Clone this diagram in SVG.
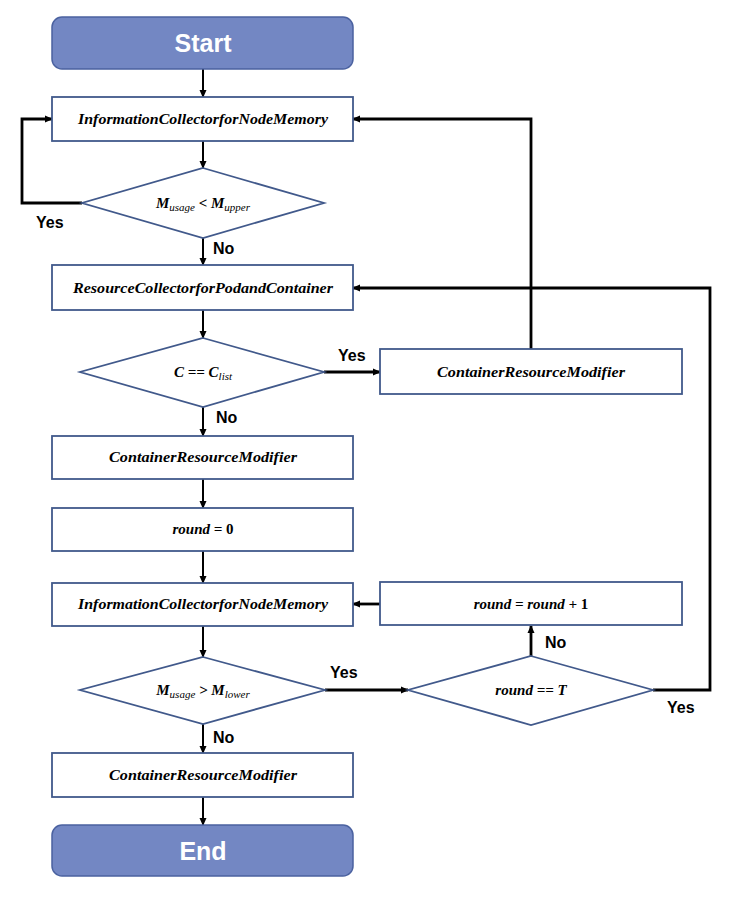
<svg xmlns="http://www.w3.org/2000/svg" width="734" height="898" viewBox="0 0 734 898">
<defs>
<marker id="ah" markerWidth="8" markerHeight="8" refX="7" refY="4" orient="auto" markerUnits="userSpaceOnUse">
<path d="M0,0.5 L8,4 L0,7.5 Z" fill="#000"/>
</marker>
<style>
.term{fill:#7387C3;stroke:#4B62A0;stroke-width:1.5}
.box{fill:#fff;stroke:#41598B;stroke-width:1.8}
.dia{fill:#fff;stroke:#41598B;stroke-width:1.8}
.tt{font-family:"Liberation Sans",Arial,sans-serif;font-weight:bold;font-size:25px;fill:#fff;text-anchor:middle}
.bt{font-family:"Liberation Serif","Times New Roman",serif;font-weight:bold;font-style:italic;font-size:15px;fill:#000;text-anchor:middle}
.sub{font-size:11px;font-weight:normal}
.up{font-style:normal}
.lbl{font-family:"Liberation Sans",Arial,sans-serif;font-weight:bold;font-size:16px;fill:#000}
.c{fill:none;stroke:#000;stroke-width:2}
.ct{fill:none;stroke:#000;stroke-width:2.8}
</style>
</defs>
<rect width="734" height="898" fill="#fff"/>

<g id="connectors">
<line class="c" x1="203" y1="69" x2="203" y2="97" marker-end="url(#ah)"/>
<line class="c" x1="203" y1="141" x2="203" y2="168" marker-end="url(#ah)"/>
<polyline class="ct" points="82,203 22,203 22,119 52,119" marker-end="url(#ah)"/>
<line class="c" x1="203" y1="238" x2="203" y2="265" marker-end="url(#ah)"/>
<line class="c" x1="203" y1="310" x2="203" y2="338" marker-end="url(#ah)"/>
<line class="ct" x1="324" y1="372" x2="380" y2="372" marker-end="url(#ah)"/>
<polyline class="ct" points="531,349 531,119 353,119" marker-end="url(#ah)"/>
<line class="c" x1="203" y1="407" x2="203" y2="436" marker-end="url(#ah)"/>
<line class="c" x1="203" y1="479" x2="203" y2="508" marker-end="url(#ah)"/>
<line class="c" x1="203" y1="551" x2="203" y2="583" marker-end="url(#ah)"/>
<line class="c" x1="203" y1="626" x2="203" y2="657" marker-end="url(#ah)"/>
<line class="ct" x1="380" y1="604" x2="353" y2="604" marker-end="url(#ah)"/>
<line class="ct" x1="531" y1="656" x2="531" y2="626" marker-end="url(#ah)"/>
<line class="ct" x1="325" y1="690" x2="408" y2="690" marker-end="url(#ah)"/>
<polyline class="ct" points="653,690 710,690 710,288 353,288" marker-end="url(#ah)"/>
<line class="c" x1="203" y1="724" x2="203" y2="753" marker-end="url(#ah)"/>
<line class="c" x1="203" y1="797" x2="203" y2="825" marker-end="url(#ah)"/>
<text class="lbl" x="36" y="228">Yes</text>
<text class="lbl" x="213" y="254">No</text>
<text class="lbl" x="338" y="361">Yes</text>
<text class="lbl" x="216" y="423">No</text>
<text class="lbl" x="330" y="678">Yes</text>
<text class="lbl" x="545" y="648">No</text>
<text class="lbl" x="667" y="713">Yes</text>
<text class="lbl" x="213" y="743">No</text>
</g>

<g id="start">
<rect class="term" x="52" y="17" width="301" height="52" rx="10"/>
<text class="tt" x="203" y="52">Start</text>
</g>
<g id="info1">
<rect class="box" x="52" y="97" width="301" height="44"/>
<text class="bt" x="203" y="124" textLength="250" lengthAdjust="spacingAndGlyphs">InformationCollectorforNodeMemory</text>
</g>
<g id="dec1">
<polygon class="dia" points="203,168 324,203 203,238 82,203"/>
<text class="bt" x="203" y="208" font-size="16.5">M<tspan class="sub" dy="3">usage</tspan><tspan dy="-3"> &lt; M</tspan><tspan class="sub" dy="3">upper</tspan></text>
</g>
<g id="resource">
<rect class="box" x="52" y="265" width="301" height="45"/>
<text class="bt" x="203" y="293" textLength="260" lengthAdjust="spacingAndGlyphs">ResourceCollectorforPodandContainer</text>
</g>
<g id="dec2">
<polygon class="dia" points="203,338 324,372 203,407 80,372"/>
<text class="bt" x="203" y="377" font-size="16.5">C == C<tspan class="sub" dy="3">list</tspan></text>
</g>
<g id="crm-right">
<rect class="box" x="380" y="349" width="302" height="45"/>
<text class="bt" x="531" y="377" textLength="188" lengthAdjust="spacingAndGlyphs">ContainerResourceModifier</text>
</g>
<g id="crm1">
<rect class="box" x="52" y="436" width="301" height="43"/>
<text class="bt" x="203" y="462" textLength="188" lengthAdjust="spacingAndGlyphs">ContainerResourceModifier</text>
</g>
<g id="round0">
<rect class="box" x="52" y="508" width="301" height="43"/>
<text class="bt" x="203" y="534">round = <tspan class="up">0</tspan></text>
</g>
<g id="info2">
<rect class="box" x="52" y="583" width="301" height="43"/>
<text class="bt" x="203" y="609" textLength="250" lengthAdjust="spacingAndGlyphs">InformationCollectorforNodeMemory</text>
</g>
<g id="roundinc">
<rect class="box" x="380" y="582" width="302" height="43"/>
<text class="bt" x="531" y="609">round = round + <tspan class="up">1</tspan></text>
</g>
<g id="dec3">
<polygon class="dia" points="203,657 325,690 203,724 80,690"/>
<text class="bt" x="203" y="695" font-size="16.5">M<tspan class="sub" dy="3">usage</tspan><tspan dy="-3"> &gt; M</tspan><tspan class="sub" dy="3">lower</tspan></text>
</g>
<g id="dec4">
<polygon class="dia" points="531,656 653,690 531,725 408,690"/>
<text class="bt" x="531" y="695">round == T</text>
</g>
<g id="crm2">
<rect class="box" x="52" y="753" width="301" height="44"/>
<text class="bt" x="203" y="780" textLength="188" lengthAdjust="spacingAndGlyphs">ContainerResourceModifier</text>
</g>
<g id="end">
<rect class="term" x="52" y="825" width="301" height="51" rx="10"/>
<text class="tt" x="203" y="860">End</text>
</g>
</svg>
